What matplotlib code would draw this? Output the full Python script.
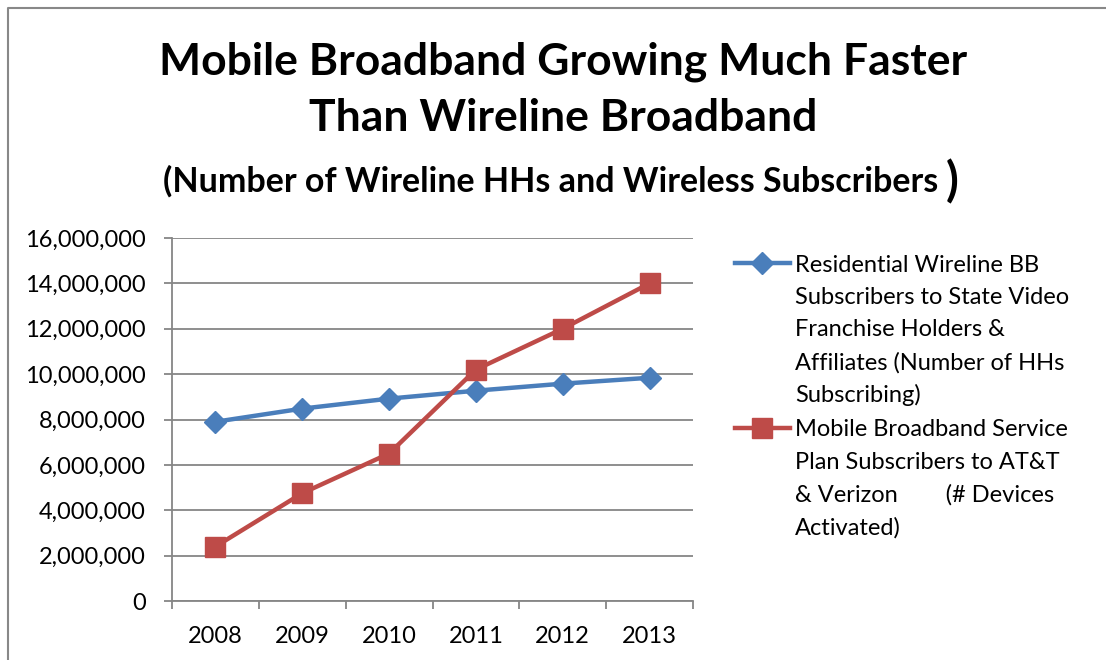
import matplotlib
matplotlib.use("Agg")
import matplotlib.pyplot as plt
from matplotlib.lines import Line2D
from matplotlib.ticker import FuncFormatter, FixedLocator

years = ["2008", "2009", "2010", "2011", "2012", "2013"]
wireline = [7900000, 8480000, 8920000, 9270000, 9580000, 9840000]
mobile = [2400000, 4750000, 6500000, 10200000, 12000000, 14000000]
yticks = [0, 2000000, 4000000, 6000000, 8000000, 10000000, 12000000, 14000000, 16000000]
label_wire = ["Residential Wireline BB", "Subscribers to State Video", "Franchise Holders &",
              "Affiliates (Number of HHs", "Subscribing)"]
label_mob = ["Mobile Broadband Service", "Plan Subscribers to AT&T",
             "& Verizon        (# Devices", "Activated)"]

BLUE = "#4A7EBB"
RED = "#BE4B48"
GRID = "#868686"
FONT = "Lato"

plt.rcParams["font.family"] = [FONT, "DejaVu Sans"]

W, H = 1106, 660
fig = plt.figure(figsize=(W / 100, H / 100), dpi=100)
fig.patch.set_facecolor("white")

ax = fig.add_axes([172 / W, 1 - 601 / H, (693 - 172) / W, (601 - 238) / H])
x = list(range(len(years)))
ax.plot(x, wireline, color=BLUE, lw=3.2, marker="D", ms=11, mfc=BLUE, mec=BLUE, zorder=3)
ax.plot(x, mobile, color=RED, lw=3.2, marker="s", ms=14, mfc=RED, mec=RED, zorder=3)

ax.set_xlim(-0.5, len(years) - 0.5)
ax.set_ylim(0, 16000000)
ax.set_yticks(yticks)
ax.yaxis.set_major_formatter(FuncFormatter(lambda v, p: f"{int(v):,}"))
ax.set_xticks(x)
ax.set_xticklabels(years)
ax.xaxis.set_minor_locator(FixedLocator([i - 0.5 for i in range(len(years) + 1)]))
ax.tick_params(axis="x", which="major", length=0, pad=18, labelsize=17)
ax.tick_params(axis="x", which="minor", length=6, width=1.3, color=GRID, direction="out")
ax.tick_params(axis="y", length=6, width=1.3, color=GRID, labelsize=17, pad=13)
ax.grid(axis="y", color=GRID, lw=1.3)
ax.set_axisbelow(True)
for s in ["top", "right"]:
    ax.spines[s].set_visible(False)
for s in ["left", "bottom"]:
    ax.spines[s].set_color(GRID)
    ax.spines[s].set_linewidth(1.3)

# titles
fig.text(563 / W, 1 - 62 / H, "Mobile Broadband Growing Much Faster", ha="center", va="center",
         fontsize=32, fontweight="bold")
fig.text(563 / W, 1 - 118 / H, "Than Wireline Broadband", ha="center", va="center",
         fontsize=32, fontweight="bold")
fig.text(163 / W, 1 - 181 / H, "(Number of Wireline HHs and Wireless Subscribers", ha="left",
         va="center", fontsize=24.5, fontweight="bold")
fig.text(946 / W, 1 - 182 / H, ")", ha="left", va="center", fontsize=34, fontweight="bold")

# legend (manual)
LS = 32.5
def leg(y, color, marker, ms, lines):
    fig.add_artist(Line2D([735 / W, 790 / W], [1 - y / H, 1 - y / H], color=color, lw=3.2,
                          transform=fig.transFigure))
    fig.add_artist(Line2D([762 / W], [1 - y / H], color=color, marker=marker, ms=ms, mfc=color,
                          mec=color, transform=fig.transFigure))
    for i, line in enumerate(lines):
        fig.text(795 / W, 1 - (y + i * LS) / H, line, ha="left", va="center_baseline",
                 fontsize=17)

leg(263, BLUE, "D", 11, label_wire)
leg(428, RED, "s", 14, label_mob)

# chart border (left and top)
fig.add_artist(Line2D([8 / W, 8 / W, 1.0], [0, 1 - 8 / H, 1 - 8 / H], color="#888888", lw=1.5,
                      transform=fig.transFigure))

fig.savefig("out.png", dpi=100)
